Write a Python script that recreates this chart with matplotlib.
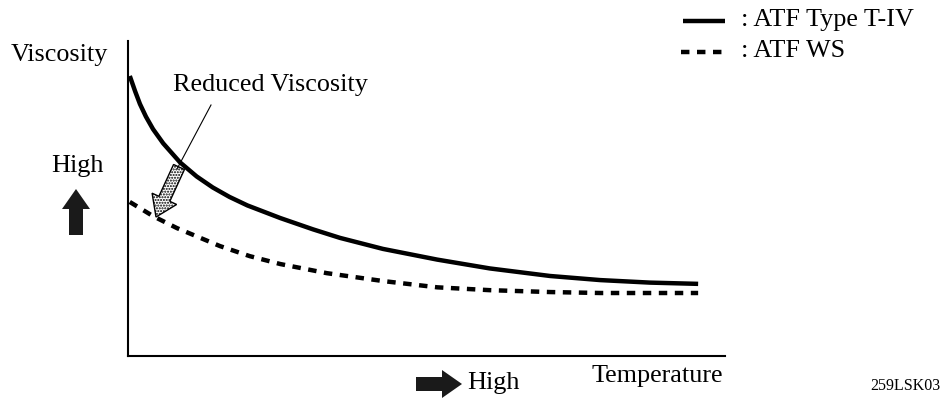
import matplotlib
matplotlib.use("Agg")
import matplotlib.pyplot as plt
from matplotlib.patches import FancyArrow

plt.rcParams["font.family"] = ["Liberation Serif", "DejaVu Serif"]

# values (temperature 0..100, viscosity 0..100)
temp_t4 = [0.3, 1.2, 2.0, 3.0, 4.2, 5.9, 8.7, 11.5, 14.2, 17.0, 20.0, 25.5,
           31.0, 35.5, 42.7, 51.8, 60.6, 70.7, 79.1, 87.4, 95.5]
visc_t4 = [88.9, 84.0, 80.0, 76.0, 72.0, 67.5, 61.5, 57.0, 53.5, 50.5, 47.8,
           43.8, 40.2, 37.5, 34.0, 30.6, 27.8, 25.4, 24.1, 23.3, 22.9]

temp_ws = [0.3, 4.2, 8.2, 15.4, 20.4, 25.5, 33.3, 42.7, 51.8, 60.6, 70.7,
           79.1, 87.4, 95.5]
visc_ws = [48.9, 44.4, 40.6, 34.9, 31.7, 29.2, 26.3, 23.8, 21.8, 20.9, 20.3,
           20.0, 20.0, 20.0]

legend_labels = [": ATF Type T-IV", ": ATF WS"]

W, H = 941, 406
FS = 18.8

fig = plt.figure(figsize=(W / 100, H / 100), dpi=100)
ax = fig.add_axes([128 / W, 1 - 357 / H, (725 - 128) / W, (357 - 42) / H])
ax.plot(temp_t4, visc_t4, color="black", lw=3.2, solid_capstyle="butt",
        solid_joinstyle="round")
ax.plot(temp_ws, visc_ws, color="black", lw=3.2, dashes=(1.9, 1.7),
        dash_capstyle="butt")
ax.set_xlim(0, 100)
ax.set_ylim(0, 100)
for s in ["top", "right"]:
    ax.spines[s].set_visible(False)
for s in ["left", "bottom"]:
    ax.spines[s].set_linewidth(1.5)
ax.set_xticks([])
ax.set_yticks([])

# overlay in pixel coords for the labels and arrows
ov = fig.add_axes([0, 0, 1, 1], zorder=5)
ov.set_xlim(0, W)
ov.set_ylim(H, 0)
ov.axis("off")
ov.patch.set_alpha(0)

ov.text(59, 55, "Viscosity", fontsize=FS, ha="center", va="center")
ov.text(77, 166, "High", fontsize=FS, ha="center", va="center")
ov.add_patch(FancyArrow(76, 236, 0, -46, width=14, head_width=28,
                        head_length=20, length_includes_head=True,
                        color="#1a1a1a", lw=0))

ov.add_patch(FancyArrow(416, 385, 46, 0, width=14, head_width=28,
                        head_length=20, length_includes_head=True,
                        color="#1a1a1a", lw=0))
ov.text(467, 383, "High", fontsize=FS, ha="left", va="center")
ov.text(723, 376, "Temperature", fontsize=FS, ha="right", va="center")
ov.text(940, 386, "259LSK03", fontsize=11.5, ha="right", va="center")

# reduced viscosity callout
ov.text(270, 85, "Reduced Viscosity", fontsize=FS, ha="center", va="center")
ov.plot([211, 177], [106, 170], color="black", lw=0.8)
ov.add_patch(FancyArrow(179, 168, -23, 50, width=12, head_width=27,
                        head_length=20, length_includes_head=True,
                        facecolor="white", edgecolor="black", lw=1.0,
                        hatch="......"))

# legend
ov.plot([683, 725], [22, 22], color="black", lw=3.2, solid_capstyle="butt")
ov.plot([681, 725], [53, 53], color="black", lw=3.2, dashes=(1.9, 1.7),
        dash_capstyle="butt")
ov.text(741, 20, legend_labels[0], fontsize=FS, ha="left", va="center")
ov.text(741, 51, legend_labels[1], fontsize=FS, ha="left", va="center")

fig.savefig("out.png", dpi=100)
